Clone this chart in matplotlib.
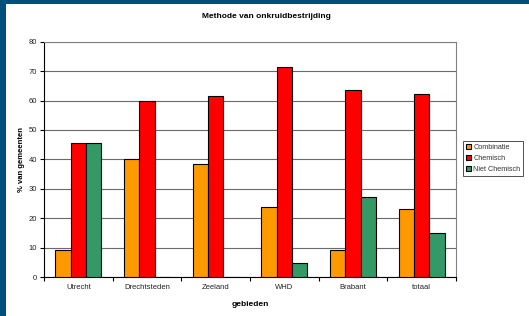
import matplotlib.pyplot as plt
import numpy as np
from matplotlib.patches import Rectangle

gebieden = ['Utrecht', 'Drechtsteden', 'Zeeland', 'WHD', 'Brabant', 'totaal']
combinatie = [9.1, 40.0, 38.5, 23.8, 9.1, 23.0]
chemisch = [45.5, 60.0, 61.5, 71.4, 63.6, 62.2]
niet_chemisch = [45.5, 0, 0, 4.8, 27.3, 14.9]

series = [('Combinatie', combinatie, '#FF9900'),
          ('Chemisch', chemisch, '#FF0000'),
          ('Niet Chemisch', niet_chemisch, '#339966')]

plt.rcParams['font.family'] = ['Liberation Sans', 'DejaVu Sans']

W, H = 529, 316
fig = plt.figure(figsize=(W / 100, H / 100), dpi=100)
fig.patch.set_facecolor('#00507C')
# white page inside the blue frame
fig.add_artist(Rectangle((6 / W, 0), 1, 1 - 4 / H, transform=fig.transFigure,
                         facecolor='white', edgecolor='none', zorder=0))

ax = fig.add_axes([44 / W, 1 - 277 / H, 412 / W, (277 - 41.7) / H])
x = np.arange(len(gebieden))
w = 0.223
for i, (name, vals, col) in enumerate(series):
    ax.bar(x + (i - 1) * w, vals, w, color=col, edgecolor='black',
           linewidth=0.8, label=name, zorder=3)

ax.set_xlim(-0.5, len(gebieden) - 0.5)
ax.set_ylim(0, 80)
ax.set_yticks(range(0, 81, 10))
ax.set_xticks(np.arange(-0.5, len(gebieden), 1), minor=False)
ax.set_xticklabels([])
ax.set_xticks(x, minor=True)
ax.set_xticklabels(gebieden, minor=True, fontsize=5.5, color='#222222')
ax.tick_params(axis='x', which='minor', length=0, pad=5)
ax.tick_params(axis='x', which='major', length=3, width=0.8, direction='out')
ax.tick_params(axis='y', labelsize=5.5, length=3, width=0.8, labelcolor='#222222', pad=2)
ax.grid(axis='y', color='#6a6a6a', linewidth=0.8, zorder=0)

for s in ['top', 'right']:
    ax.spines[s].set_color('#808080')
    ax.spines[s].set_linewidth(0.8)
for s in ['left', 'bottom']:
    ax.spines[s].set_color('black')
    ax.spines[s].set_linewidth(0.8)

ax.set_xlabel('gebieden', fontsize=6, fontweight='bold', labelpad=7)
ax.set_ylabel('% van gemeenten', fontsize=5.5, fontweight='bold', labelpad=3)
fig.text(266 / W, 1 - 16 / H, 'Methode van onkruidbestrijding', ha='center',
         va='center', fontsize=6, fontweight='bold')

leg = ax.legend(loc='center left', bbox_to_anchor=(463 / W, 1 - 158.5 / H),
                bbox_transform=fig.transFigure, fontsize=5.2, frameon=True,
                fancybox=False, edgecolor='black', handlelength=0.7,
                handleheight=0.7, handletextpad=0.35, borderpad=0.4,
                labelspacing=0.6, borderaxespad=0, labelcolor='#333333')
leg.get_frame().set_linewidth(0.6)

fig.savefig('out.png', dpi=100, facecolor=fig.get_facecolor())
